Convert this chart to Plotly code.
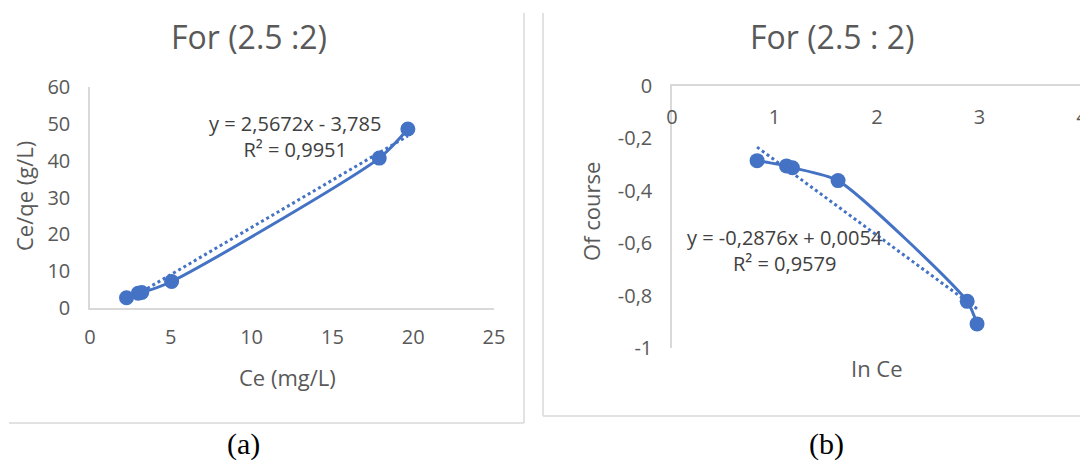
import plotly.graph_objects as go

# ---- data (a) ----
ce_a = [2.26, 2.98, 3.20, 5.05, 17.9, 19.67]
ceqe_a = [2.8, 4.0, 4.2, 7.2, 40.7, 48.6]
slope_a, intercept_a = 2.5672, -3.785
eq_a = "y = 2,5672x - 3,785<br>R² = 0,9951"

# ---- data (b) ----
lnce_b = [0.83, 1.117, 1.175, 1.62, 2.88, 2.976]
y_b = [-0.285, -0.305, -0.312, -0.361, -0.822, -0.908]
slope_b, intercept_b = -0.2876, 0.0054
eq_b = "y = -0,2876x + 0,0054<br>R² = 0,9579"

x_ticks_a = [0, 5, 10, 15, 20, 25]
y_ticks_a = [0, 10, 20, 30, 40, 50, 60]
x_ticks_b = [0, 1, 2, 3, 4]
y_ticks_b = [0, -0.2, -0.4, -0.6, -0.8, -1]
y_ticklabels_b = ["0", "-0,2", "-0,4", "-0,6", "-0,8", "-1"]

BLUE = "#4472C4"
GRAY = "#595959"
AXIS = "#d9d9d9"
FONT = "Open Sans"
OFF = 8                     # page body margin
W, H = 1088 - OFF, 466 - OFF


def px(x):
    return (x - OFF) / W


def py(y):
    return 1 - (y - OFF) / H


fig = go.Figure()

# (a) smoothed line + markers
fig.add_trace(go.Scatter(x=ce_a, y=ceqe_a, mode="lines+markers",
                         line=dict(color=BLUE, width=3, shape="spline", smoothing=0.7),
                         marker=dict(color=BLUE, size=15),
                         xaxis="x", yaxis="y", showlegend=False))
tx_a = [min(ce_a), max(ce_a)]
fig.add_trace(go.Scatter(x=tx_a, y=[slope_a * v + intercept_a for v in tx_a], mode="lines",
                         line=dict(color=BLUE, width=3, dash="dot"),
                         xaxis="x", yaxis="y", showlegend=False))

# (b)
fig.add_trace(go.Scatter(x=lnce_b, y=y_b, mode="lines+markers",
                         line=dict(color=BLUE, width=3, shape="spline", smoothing=0.6),
                         marker=dict(color=BLUE, size=15),
                         xaxis="x2", yaxis="y2", showlegend=False))
tx_b = [min(lnce_b), max(lnce_b)]
# trendline drawn on x3 (same domain/range as x2) so the label-only axis x3 exists
fig.add_trace(go.Scatter(x=tx_b, y=[slope_b * v + intercept_b for v in tx_b], mode="lines",
                         line=dict(color=BLUE, width=3, dash="dot"),
                         xaxis="x3", yaxis="y2", showlegend=False))

tickfont = dict(family=FONT, size=20, color=GRAY)
common = dict(showgrid=False, zeroline=False, ticks="", automargin=False, tickfont=tickfont)

fig.update_layout(
    width=W, height=H,
    margin=dict(l=0, r=0, t=0, b=0),
    paper_bgcolor="white", plot_bgcolor="rgba(0,0,0,0)",
    xaxis=dict(domain=[px(90), px(494)], range=[0, 25], tickvals=x_ticks_a,
               showline=True, linecolor=AXIS, linewidth=1.5,
               ticklabelstandoff=10, anchor="y", **common),
    yaxis=dict(domain=[py(308), py(87)], range=[0, 60], tickvals=y_ticks_a,
               showline=True, linecolor=AXIS, linewidth=1.5,
               ticklabelstandoff=14, anchor="x", **common),
    # axis line of (b) at y = 0 (top of range), no labels
    xaxis2=dict(domain=[px(672), px(1082)], range=[0, 4], tickvals=x_ticks_b,
                side="top", showticklabels=False,
                showline=True, linecolor=AXIS, linewidth=1.5, anchor="y2", **common),
    # tick labels of (b) x axis shown just under the axis line
    xaxis3=dict(domain=[px(672), px(1082)], range=[0, 4], tickvals=x_ticks_b,
                overlaying="x2", anchor="free", position=py(103), side="bottom",
                ticklabeloverflow="allow", showline=False, **common),
    yaxis2=dict(domain=[py(348), py(86)], range=[-1, 0], tickvals=y_ticks_b,
                ticktext=y_ticklabels_b,
                showline=True, linecolor=AXIS, linewidth=1.5,
                ticklabelstandoff=14, anchor="x2", **common),
)

ann = []


def add_text(text, x, y, size, color=GRAY, family=FONT, angle=0):
    ann.append(dict(text=text, x=px(x), y=py(y), xref="paper", yref="paper",
                    xanchor="center", yanchor="middle", showarrow=False, align="center",
                    textangle=angle, font=dict(family=family, size=size, color=color)))


# titles
add_text("For (2.5 :2)", 249, 37, 32)
add_text("For (2.5 : 2)", 832, 37, 32)
# axis titles
add_text("Ce (mg/L)", 287, 377, 22)
add_text("Ce/qe (g/L)", 24, 196, 22, angle=-90)
add_text("In Ce", 877, 368, 22)
add_text("Of course", 591, 212, 22, angle=-90)
# equations
add_text(eq_a, 295, 136, 20, color="#404040")
add_text(eq_b, 785, 251, 20, color="#404040")
# panel labels
add_text("(a)", 243, 444, 30, color="black", family="Liberation Serif")
add_text("(b)", 826, 444, 30, color="black", family="Liberation Serif")
fig.update_layout(annotations=ann)

# panel borders
border = dict(color="#d9d9d9", width=1.5)
shapes = [
    dict(type="line", xref="paper", yref="paper", x0=px(524), x1=px(524), y0=py(13), y1=py(423), line=border),
    dict(type="line", xref="paper", yref="paper", x0=px(9), x1=px(524), y0=py(423), y1=py(423), line=border),
    dict(type="line", xref="paper", yref="paper", x0=px(543), x1=px(543), y0=py(13), y1=py(416), line=border),
    dict(type="line", xref="paper", yref="paper", x0=px(543), x1=1, y0=py(416), y1=py(416), line=border),
]
fig.update_layout(shapes=shapes)

fig.write_html("out.html")
